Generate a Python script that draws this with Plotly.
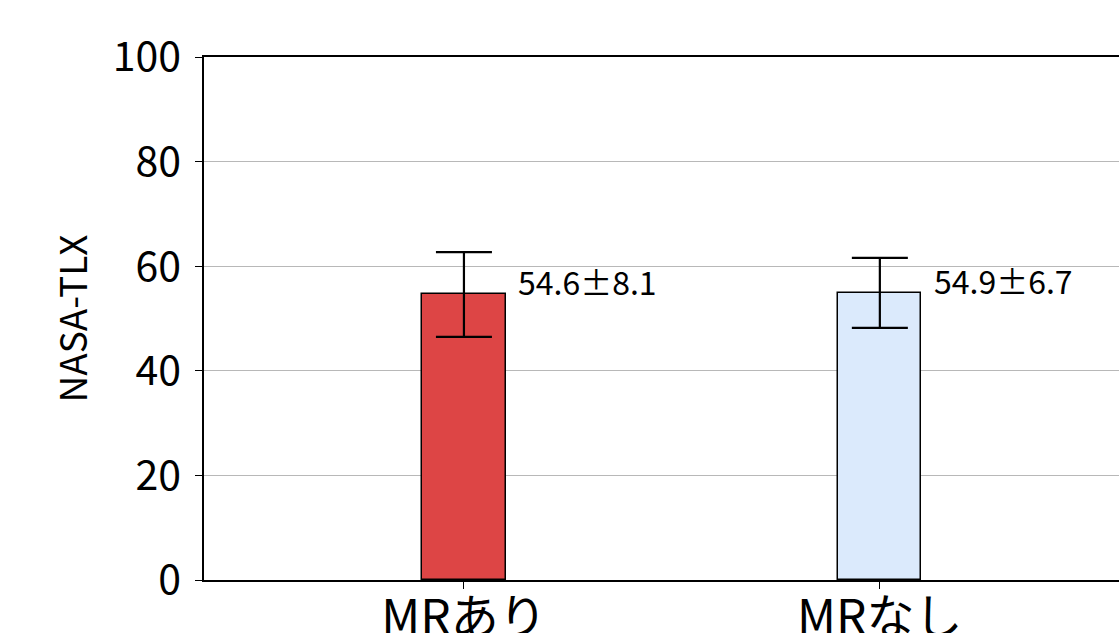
import plotly.graph_objects as go

categories = ["MRあり", "MRなし"]
means = [54.6, 54.9]
sds = [8.1, 6.7]
colors = ["#dd4545", "#dbeafc"]
y_ticks = [0, 20, 40, 60, 80, 100]

FONT = "Noto Sans CJK JP"

fig = go.Figure()
fig.add_trace(go.Bar(
    x=categories,
    y=means,
    width=0.2,
    marker=dict(color=colors, line=dict(color="black", width=1.5)),
    error_y=dict(type="data", array=sds, visible=True, color="black", thickness=2.2, width=28),
    showlegend=False,
))

for i, (m, s) in enumerate(zip(means, sds)):
    fig.add_annotation(
        x=i + 0.125, y=m, xref="x", yref="y",
        text=f"{m:.1f}±{s:.1f}",
        showarrow=False, xanchor="left", yanchor="bottom",
        yshift=-12,
        font=dict(family=FONT, size=32, color="black"),
    )

fig.update_layout(
    width=1119, height=633,
    margin=dict(l=204, r=0, t=57, b=53),
    plot_bgcolor="white", paper_bgcolor="white",
    font=dict(family=FONT, color="black"),
    bargap=0,
)
fig.update_xaxes(
    type="category",
    range=[-0.625, 1.575],
    showline=True, linecolor="black", linewidth=1.5, mirror=True,
    ticks="outside", ticklen=7, tickwidth=1, tickcolor="black",
    showgrid=False, zeroline=False,
    tickfont=dict(family=FONT, size=48),
    ticklabelstandoff=-12,
    automargin=False,
)
fig.update_yaxes(
    range=[0, 100],
    tickvals=y_ticks,
    showline=True, linecolor="black", linewidth=1.5, mirror=False,
    ticks="outside", ticklen=7, tickwidth=1, tickcolor="black",
    showgrid=True, gridcolor="#b8b8b8", gridwidth=1.2,
    zeroline=False,
    tickfont=dict(family=FONT, size=41),
    ticklabelstandoff=6,
    title=dict(text="NASA-TLX", font=dict(family=FONT, size=37), standoff=14),
    automargin=False,
)

fig.write_html(
    "out.html",
    config={"displayModeBar": False},
    post_script="document.body.style.margin='0';document.body.style.overflow='hidden';",
)
